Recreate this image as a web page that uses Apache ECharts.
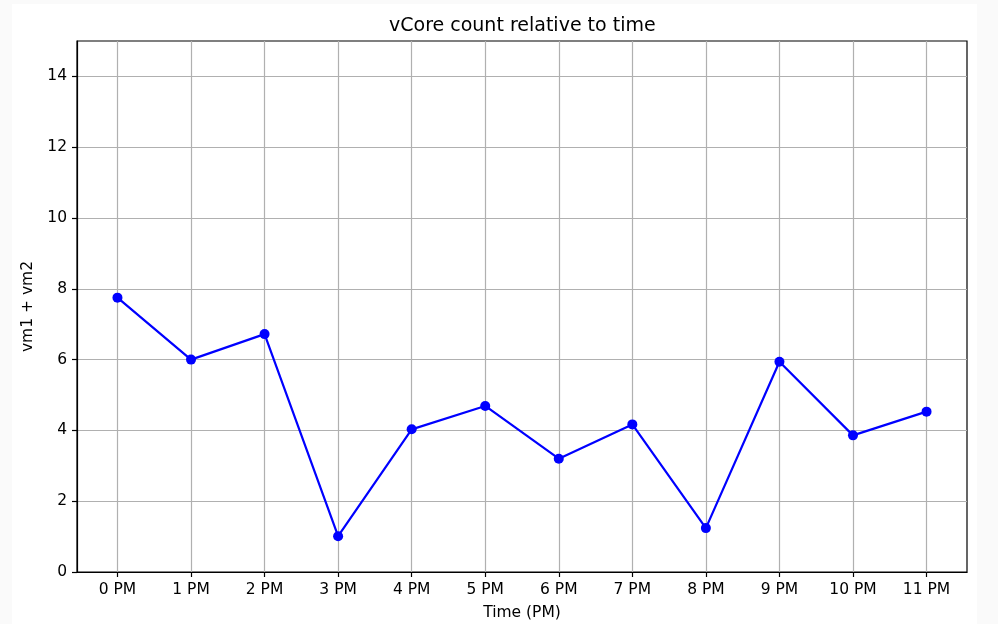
<!DOCTYPE html>
<html>
<head>
<meta charset="utf-8">
<script src="https://cdn.jsdelivr.net/npm/echarts@6/dist/echarts.min.js"></script>
<style>
html,body{margin:0;padding:0;background:#fafafa;}
#chart{width:998px;height:624px;}
</style>
</head>
<body>
<div id="chart"></div>
<script>
const categories = ['0 PM','1 PM','2 PM','3 PM','4 PM','5 PM','6 PM','7 PM','8 PM','9 PM','10 PM','11 PM'];
const vcores = [7.75, 6.0, 6.72, 1.01, 4.03, 4.69, 3.2, 4.17, 1.24, 5.94, 3.86, 4.53];
const yTicks = [0, 2, 4, 6, 8, 10, 12, 14];
const xTicks = categories.map((c, i) => i);

const FONT = 'DejaVu Sans';
const chart = echarts.init(document.getElementById('chart'), null, {renderer: 'canvas'});
const option = {
  backgroundColor: '#fafafa',
  animation: false,
  graphic: [{
    type: 'rect', left: 12, top: 4, z: -100,
    shape: {width: 965, height: 620},
    style: {fill: '#ffffff'}
  }],
  title: {
    text: 'vCore count relative to time',
    left: 384, top: 12,
    textStyle: {fontFamily: FONT, fontSize: 19, fontWeight: 'normal', color: '#000'}
  },
  grid: {
    left: 77, top: 41, width: 890, height: 531,
    outerBoundsMode: 'none', containLabel: false,
    show: true, borderColor: '#000', borderWidth: 1.2, backgroundColor: 'transparent'
  },
  xAxis: {
    type: 'value',
    min: -0.55, max: 11.55, interval: 1,
    name: 'Time (PM)', nameLocation: 'middle', nameGap: 33,
    nameTextStyle: {fontFamily: FONT, fontSize: 15.5, color: '#000'},
    axisLine: {show: true, onZero: false, lineStyle: {color: '#000', width: 1.2}},
    axisTick: {show: true, length: 5, lineStyle: {color: '#000', width: 1.2}, customValues: xTicks},
    axisLabel: {
      fontFamily: FONT, fontSize: 15.5, color: '#000', margin: 10,
      customValues: xTicks,
      formatter: v => (Number.isInteger(v) && categories[v] !== undefined) ? categories[v] : ''
    },
    splitLine: {show: true, lineStyle: {color: '#b0b0b0', width: 1.2}}
  },
  yAxis: {
    type: 'value',
    min: 0, max: 15, interval: 2,
    name: 'vm1 + vm2', nameLocation: 'middle', nameGap: 30,
    nameTextStyle: {fontFamily: FONT, fontSize: 15.5, color: '#000'},
    axisLine: {show: true, onZero: false, lineStyle: {color: '#000', width: 1.2}},
    axisTick: {show: true, length: 5, lineStyle: {color: '#000', width: 1.2}, customValues: yTicks},
    axisLabel: {
      fontFamily: FONT, fontSize: 15.5, color: '#000', margin: 10,
      customValues: yTicks,
      formatter: v => yTicks.includes(v) ? String(v) : ''
    },
    splitLine: {show: true, lineStyle: {color: '#b0b0b0', width: 1.2}}
  },
  series: [{
    type: 'line',
    data: vcores.map((v, i) => [xTicks[i], v]),
    symbol: 'circle', symbolSize: 10,
    lineStyle: {color: '#0000ff', width: 2.2},
    itemStyle: {color: '#0000ff'},
    z: 3
  }]
};
chart.setOption(option);
</script>
</body>
</html>
